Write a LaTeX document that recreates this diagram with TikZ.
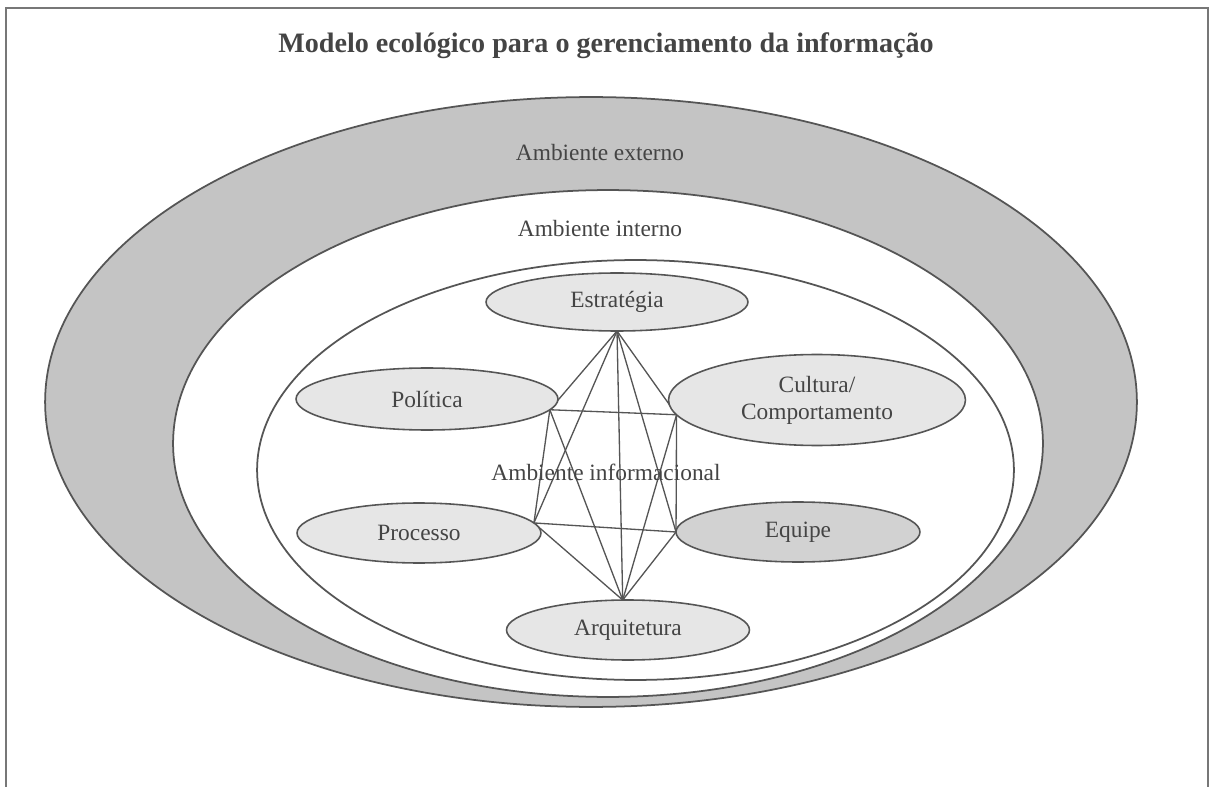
\documentclass[tikz,border=0pt]{standalone}
\usepackage{fontspec}
\setmainfont{Liberation Serif}
\usetikzlibrary{shapes.geometric}
\pgfdeclarelayer{back}
\pgfdeclarelayer{links}
\pgfsetlayers{back,links,main}
\definecolor{linec}{RGB}{85,85,85}
\definecolor{bandg}{RGB}{196,196,196}
\definecolor{lightf}{RGB}{230,230,230}
\definecolor{eqf}{RGB}{210,210,210}
\definecolor{textc}{RGB}{68,68,68}
\begin{document}
\begin{tikzpicture}[x=0.02cm,y=-0.02cm,
  env/.style={ellipse, draw=linec, line width=1pt, inner sep=0pt, outer sep=0pt},
  part/.style={ellipse, draw=linec, line width=0.9pt, fill=lightf, inner sep=0pt, outer sep=0pt,
    font=\fontsize{13.3}{15.5}\selectfont, text=textc, align=center},
  lbl/.style={font=\fontsize{13.3}{15.5}\selectfont, text=textc, inner sep=0pt},
  link/.style={draw=linec, line width=0.75pt}]
\useasboundingbox (0,0) rectangle (1211,787);
\begin{pgfonlayer}{back}
\draw[draw=linec!80, line width=1.2pt] (6,787) -- (6,8) -- (1208,8) -- (1208,787);
\node[env, fill=bandg, minimum width=21.84cm, minimum height=12.2cm] (ext) at (591,402) {};
\node[env, fill=white, minimum width=17.4cm, minimum height=10.14cm] (int) at (608,443.5) {};
\node[env, fill=white, minimum width=15.14cm, minimum height=8.4cm] (inf) at (635.5,470) {};
\end{pgfonlayer}

\node[font=\bfseries\fontsize{16}{19}\selectfont, text=textc] (title) at (606,46) {Modelo ecológico para o gerenciamento da informação};
\node[lbl] (lext) at (600,153) {Ambiente externo};
\node[lbl] (lint) at (600,229) {Ambiente interno};

\node[part, minimum width=5.24cm, minimum height=1.16cm] (estr) at (617,302) {Estratégia};
\node[part, minimum width=5.24cm, minimum height=1.24cm] (pol) at (427,399) {Política};
\node[part, minimum width=5.94cm, minimum height=1.82cm] (cult) at (817,400) {Cultura/\\Comportamento};
\node[part, minimum width=4.88cm, minimum height=1.2cm] (proc) at (419,533) {Processo};
\node[part, fill=eqf, minimum width=4.88cm, minimum height=1.2cm] (eq) at (798,532) {Equipe};
\node[part, minimum width=4.86cm, minimum height=1.2cm] (arq) at (628,630) {Arquitetura};

\node[lbl] (linf) at (606,472) {Ambiente informacional};

\begin{pgfonlayer}{links}
\draw[link] (estr.south) -- (pol.-5);
\draw[link] (estr.south) -- (cult.186);
\draw[link] (estr.south) -- (proc.5);
\draw[link] (estr.south) -- (eq.west);
\draw[link] (estr.south) -- (arq.100);
\draw[link] (pol.-5) -- (cult.186);
\draw[link] (pol.-5) -- (proc.5);
\draw[link] (pol.-5) -- (arq.100);
\draw[link] (cult.186) -- (eq.west);
\draw[link] (cult.186) -- (arq.100);
\draw[link] (proc.5) -- (eq.west);
\draw[link] (proc.5) -- (arq.100);
\draw[link] (eq.west) -- (arq.100);
\end{pgfonlayer}
\end{tikzpicture}
\end{document}
